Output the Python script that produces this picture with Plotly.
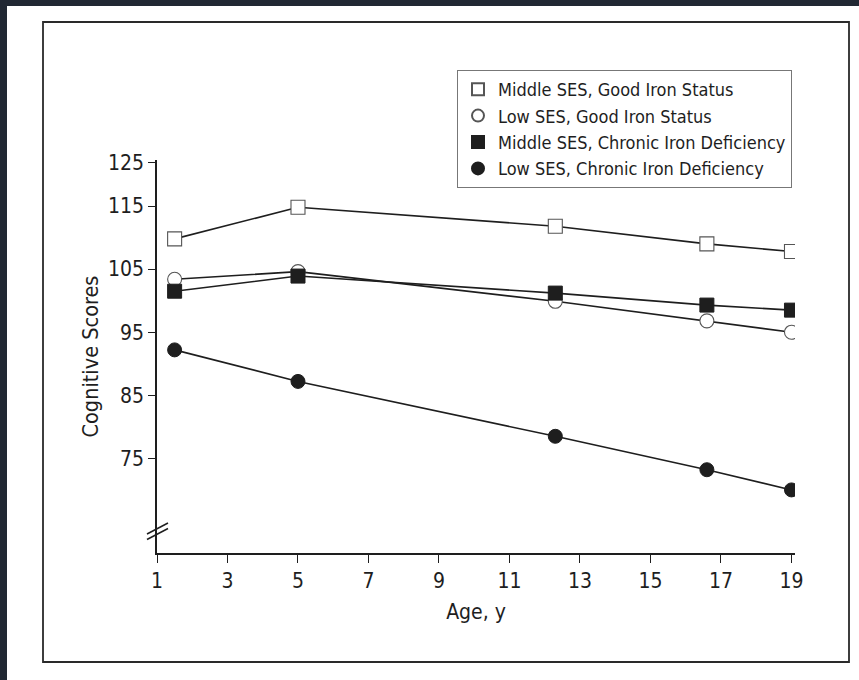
import plotly.graph_objects as go

ages = [1.5, 5, 12.3, 16.6, 19]
series_names = [
    "Middle SES, Good Iron Status",
    "Low SES, Good Iron Status",
    "Middle SES, Chronic Iron Deficiency",
    "Low SES, Chronic Iron Deficiency",
]
mid_good = [109.8, 114.8, 111.8, 109.0, 107.8]
low_good = [103.4, 104.6, 99.9, 96.8, 95.0]
mid_def = [101.5, 103.9, 101.2, 99.3, 98.5]
low_def = [92.2, 87.2, 78.5, 73.2, 70.0]
y_tick_vals = [121.9, 115, 105, 95, 85, 75]
y_tick_text = ["125", "115", "105", "95", "85", "75"]
x_tick_vals = [1, 3, 5, 7, 9, 11, 13, 15, 17, 19]

FONT = "'Liberation Sans Narrow', 'Arial Narrow', 'DejaVu Sans Condensed', 'Liberation Sans', sans-serif"
INK = "#1e1e1e"
DARK = "#212833"

W, H = 859, 680
L, R, T, B = 157, 64, 160, 127
PW, PH = W - L - R, H - T - B


def px(x):
    return (x - L) / PW


def py(y):
    return (H - B - y) / PH


styles = [
    dict(symbol="square", color="white", line=dict(color="#555", width=1.1)),
    dict(symbol="circle", color="white", line=dict(color="#555", width=1.1)),
    dict(symbol="square", color=INK, line=dict(color=INK, width=1)),
    dict(symbol="circle", color=INK, line=dict(color=INK, width=1)),
]
data = [mid_good, low_good, mid_def, low_def]

fig = go.Figure()
for vals in data:
    fig.add_trace(go.Scatter(x=ages, y=vals, mode="lines",
                             line=dict(color=INK, width=1.6),
                             showlegend=False, hoverinfo="skip"))
for name, vals, st in zip(series_names, data, styles):
    fig.add_trace(go.Scatter(x=ages, y=vals, mode="markers", name=name,
                             marker=dict(size=14, **st)))

shapes = [
    # white card
    dict(type="rect", xref="paper", yref="paper", x0=px(7), x1=px(862),
         y0=py(683), y1=py(6), fillcolor="white", line=dict(width=0), layer="below"),
    # bordered frame
    dict(type="rect", xref="paper", yref="paper", x0=px(43), x1=px(849),
         y0=py(662), y1=py(22), fillcolor="rgba(0,0,0,0)",
         line=dict(color="#2a2a2a", width=1.8), layer="below"),
    # axis break marks
    dict(type="line", xref="paper", yref="paper", x0=px(147), y0=py(534),
         x1=px(168), y1=py(523), line=dict(color=INK, width=1.5)),
    dict(type="line", xref="paper", yref="paper", x0=px(147), y0=py(539.5),
         x1=px(168), y1=py(528.5), line=dict(color=INK, width=1.5)),
]

fig.update_layout(
    width=W, height=H,
    margin=dict(l=L, r=R, t=T, b=B),
    paper_bgcolor=DARK,
    plot_bgcolor="white",
    font=dict(family=FONT, color=INK, size=20),
    shapes=shapes,
    showlegend=True,
    legend=dict(x=px(457), y=py(70), xanchor="left", yanchor="top",
                bgcolor="white", bordercolor="#777", borderwidth=1,
                font=dict(family=FONT, size=18, color=INK),
                itemsizing="constant", tracegroupgap=0),
    xaxis=dict(range=[1, 19.1], tickvals=x_tick_vals, showgrid=False,
               zeroline=False, showline=True, linecolor=INK, linewidth=1.6,
               ticks="outside", ticklen=8, tickwidth=1.4, tickcolor=INK,
               tickfont=dict(size=21), title=dict(text="Age, y", font=dict(size=21), standoff=12)),
    yaxis=dict(range=[60, 122.3], tickvals=y_tick_vals, ticktext=y_tick_text,
               showgrid=False, zeroline=False, showline=True, linecolor=INK,
               linewidth=1.6, ticks="outside", ticklen=7, tickwidth=1.4,
               tickcolor=INK, tickfont=dict(size=21),
               title=dict(text="Cognitive Scores", font=dict(size=21.5), standoff=3)),
)

fig.write_html(
    "out.html",
    config={"displayModeBar": False},
    post_script=(
        "document.documentElement.style.background='" + DARK + "';"
        "document.body.style.margin='0';"
        "document.body.style.overflow='hidden';"
        "document.body.style.background='" + DARK + "';"
    ),
)
